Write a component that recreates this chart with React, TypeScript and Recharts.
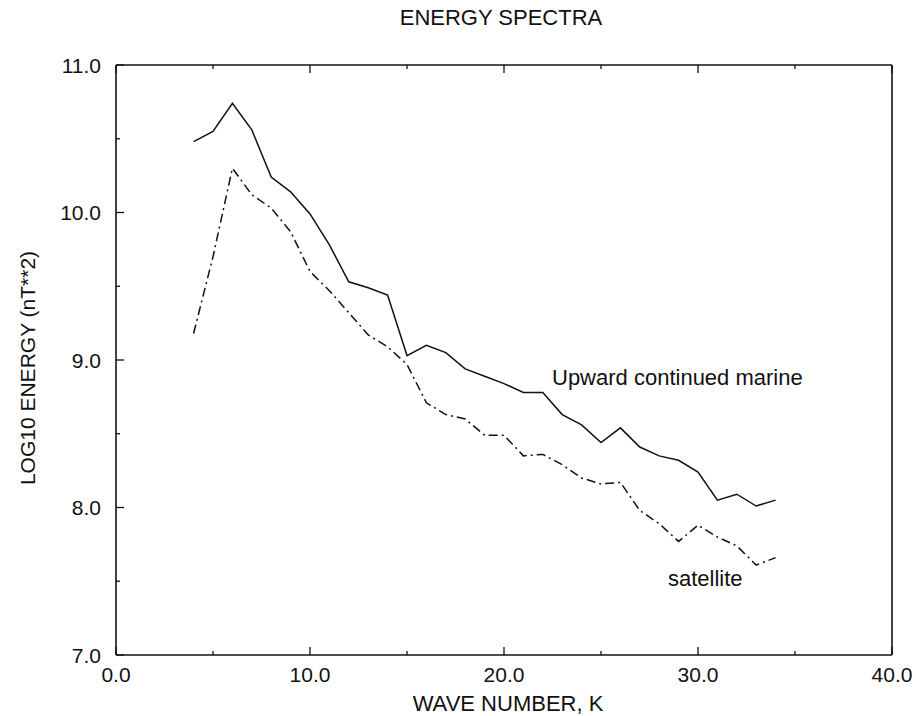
import React from "react";
import { Line, LineChart, XAxis, YAxis } from "recharts";

const waveNumbers = [
  4, 5, 6, 7, 8, 9, 10, 11, 12, 13, 14, 15, 16, 17, 18, 19, 20, 21, 22, 23, 24, 25, 26, 27, 28, 29, 30, 31, 32, 33, 34
];
const marine = [
  10.48, 10.55, 10.74, 10.56, 10.24, 10.14, 9.99, 9.78, 9.53, 9.49, 9.44, 9.03, 9.1, 9.05, 8.94, 8.89, 8.84, 8.78,
  8.78, 8.63, 8.56, 8.44, 8.54, 8.41, 8.35, 8.32, 8.24, 8.05, 8.09, 8.01, 8.05
];
const satellite = [
  9.18, 9.7, 10.3, 10.12, 10.03, 9.87, 9.6, 9.47, 9.32, 9.17, 9.09, 8.97, 8.71, 8.63, 8.6, 8.49, 8.49, 8.35, 8.36,
  8.29, 8.2, 8.16, 8.17, 7.98, 7.89, 7.77, 7.88, 7.8, 7.74, 7.61, 7.66
];
const xTicks = [0, 5, 10, 15, 20, 25, 30, 35, 40];
const yTicks = [7, 7.5, 8, 8.5, 9, 9.5, 10, 10.5, 11];

const data = waveNumbers.map((k, i) => ({ k, marine: marine[i], satellite: satellite[i] }));

const font = '"Liberation Sans", Arial, Helvetica, sans-serif';
const ink = "#111";

const isMajorX = (v: number) => v % 10 === 0;
const isMajorY = (v: number) => Number.isInteger(v);

function BottomTick({ x, y, payload }: any) {
  const major = isMajorX(payload.value);
  return (
    <g>
      <line x1={x} x2={x} y1={y} y2={y - (major ? 8 : 4)} stroke={ink} strokeWidth={1.3} />
      {major && (
        <text x={x} y={y + 27} textAnchor="middle" fontSize={21} fontFamily={font} fill={ink}>
          {payload.value.toFixed(1)}
        </text>
      )}
    </g>
  );
}

function TopTick({ x, y, payload }: any) {
  const major = isMajorX(payload.value);
  return <line x1={x} x2={x} y1={y} y2={y + (major ? 8 : 4)} stroke={ink} strokeWidth={1.3} />;
}

function LeftTick({ x, y, payload }: any) {
  const major = isMajorY(payload.value);
  return (
    <g>
      <line x1={x} x2={x + (major ? 8 : 4)} y1={y} y2={y} stroke={ink} strokeWidth={1.3} />
      {major && (
        <text x={x - 15} y={y + 7.5} textAnchor="end" fontSize={21} fontFamily={font} fill={ink}>
          {payload.value.toFixed(1)}
        </text>
      )}
    </g>
  );
}

function RightTick({ x, y, payload }: any) {
  const major = isMajorY(payload.value);
  return <line x1={x} x2={x - (major ? 8 : 4)} y1={y} y2={y} stroke={ink} strokeWidth={1.3} />;
}

export default function App() {
  return (
    <div style={{ position: "absolute", left: 0, top: 0, width: 916, height: 716, background: "#fff" }}>
      <LineChart width={916} height={716} data={data} margin={{ top: 55, right: 14, bottom: 31, left: 56 }}>
        <XAxis
          dataKey="k"
          type="number"
          domain={[0, 40]}
          ticks={xTicks}
          interval={0}
          height={30}
          tickSize={0}
          tickMargin={0}
          tickLine={false}
          tick={BottomTick}
          axisLine={{ stroke: ink, strokeWidth: 1.6 }}
        />
        <XAxis
          xAxisId="top"
          orientation="top"
          dataKey="k"
          type="number"
          domain={[0, 40]}
          ticks={xTicks}
          interval={0}
          height={10}
          tickSize={0}
          tickMargin={0}
          tickLine={false}
          tick={TopTick}
          axisLine={{ stroke: ink, strokeWidth: 1.6 }}
        />
        <YAxis
          type="number"
          domain={[7, 11]}
          ticks={yTicks}
          interval={0}
          width={60}
          tickSize={0}
          tickMargin={0}
          tickLine={false}
          tick={LeftTick}
          axisLine={{ stroke: ink, strokeWidth: 1.6 }}
        />
        <YAxis
          yAxisId="right"
          orientation="right"
          type="number"
          domain={[7, 11]}
          ticks={yTicks}
          interval={0}
          width={10}
          tickSize={0}
          tickMargin={0}
          tickLine={false}
          tick={RightTick}
          axisLine={{ stroke: ink, strokeWidth: 1.6 }}
        />
        <Line
          type="linear"
          dataKey="marine"
          stroke={ink}
          strokeWidth={1.5}
          dot={false}
          isAnimationActive={false}
        />
        <Line
          type="linear"
          dataKey="satellite"
          stroke={ink}
          strokeWidth={1.5}
          strokeDasharray="9 4 2 4"
          dot={false}
          isAnimationActive={false}
        />
      </LineChart>
      <svg
        width={916}
        height={716}
        style={{ position: "absolute", left: 0, top: 0, pointerEvents: "none" }}
        fontFamily={font}
        fill={ink}
      >
        <text x={501} y={25} textAnchor="middle" fontSize={22}>
          ENERGY SPECTRA
        </text>
        <text x={508} y={711} textAnchor="middle" fontSize={22}>
          WAVE NUMBER, K
        </text>
        <text x={35} y={368} textAnchor="middle" fontSize={21} transform="rotate(-90 35 368)">
          LOG10 ENERGY (nT**2)
        </text>
        <text x={552} y={385} fontSize={22}>
          Upward continued marine
        </text>
        <text x={668} y={586} fontSize={22}>
          satellite
        </text>
      </svg>
    </div>
  );
}
